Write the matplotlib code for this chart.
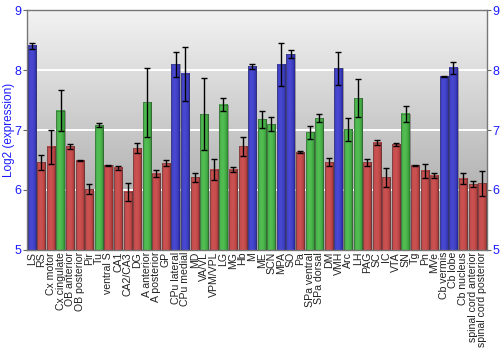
import numpy as np
import matplotlib
matplotlib.use("Agg")
import matplotlib.pyplot as plt

regions = ["LS", "RS", "Cx motor", "Cx cingulate", "OB anterior", "OB posterior",
           "Pir", "Tu", "ventral S", "CA1", "CA2/CA3", "DG", "A anterior",
           "A posterior", "GP", "CPu lateral", "CPu medial", "MD", "VA/VL",
           "VPM/VPL", "LG", "MG", "Hb", "M", "ME", "SCN", "MPA", "SO", "Pa",
           "SPa ventral", "SPa dorsal", "DM", "VMH", "Arc", "LH", "PAG", "SC",
           "IC", "VTA", "SN", "Tg", "Pn", "MVe", "Cb vermis", "Cb lobe",
           "Cb nucleus", "spinal cord anterior", "spinal cord posterior"]

expression = [8.41, 6.46, 6.72, 7.32, 6.73, 6.49, 6.01, 7.08, 6.41, 6.37, 5.97,
              6.70, 7.46, 6.27, 6.45, 8.10, 7.94, 6.21, 7.26, 6.34, 7.42, 6.34,
              6.73, 8.06, 7.18, 7.10, 8.09, 8.27, 6.63, 6.96, 7.20, 6.46, 8.03,
              7.01, 7.53, 6.46, 6.79, 6.21, 6.76, 7.27, 6.41, 6.32, 6.24, 7.89,
              8.04, 6.19, 6.10, 6.11]

errors = [0.05, 0.125, 0.28, 0.34, 0.04, 0.01, 0.085, 0.035, 0.01, 0.03, 0.15,
          0.085, 0.57, 0.06, 0.045, 0.21, 0.45, 0.07, 0.60, 0.18, 0.11, 0.035,
          0.16, 0.035, 0.14, 0.11, 0.36, 0.06, 0.02, 0.115, 0.06, 0.065, 0.28,
          0.19, 0.32, 0.06, 0.04, 0.16, 0.025, 0.135, 0.01, 0.115, 0.035, 0.01,
          0.10, 0.09, 0.045, 0.21]

groups = ["b", "r", "r", "g", "r", "r", "r", "g", "r", "r", "r", "r", "g", "r",
          "r", "b", "b", "r", "g", "r", "g", "r", "r", "b", "g", "g", "b", "b",
          "r", "g", "g", "r", "b", "g", "g", "r", "r", "r", "r", "g", "r", "r",
          "r", "b", "b", "r", "r", "r"]

# (light, dark) shades for the cylinder-style bar fill
shades = {
    "b": ((0.28, 0.28, 0.82), (0.12, 0.12, 0.54)),
    "r": ((0.80, 0.32, 0.32), (0.52, 0.14, 0.14)),
    "g": ((0.32, 0.74, 0.32), (0.12, 0.46, 0.12)),
}

fig = plt.figure(figsize=(5, 3.5), dpi=100)
ax = fig.add_axes([0.054, 0.286, 0.92, 0.685])

n = len(regions)
x = np.arange(n)
width = 0.86
ymin, ymax = 5, 9

# grey vertical gradient background, light at the top
bg = np.linspace(0.95, 0.62, 256)[:, None]
bg = np.repeat(bg, 2, axis=1)
ax.imshow(bg, cmap="gray", vmin=0, vmax=1, extent=(-0.5, n - 0.5, ymin, ymax),
          origin="upper", aspect="auto", zorder=0, interpolation="bicubic")

for yv in (6, 7, 8):
    ax.axhline(yv, color="white", lw=1.4, zorder=1)

# horizontal shading profile across each bar
t = np.linspace(0, 1, 64)
prof = np.clip(np.sin(np.pi * (0.15 + 0.85 * t)) ** 0.6, 0, 1)

bars = ax.bar(x, np.array(expression) - ymin, bottom=ymin, width=width,
              facecolor="none", edgecolor=(0.25, 0.25, 0.25, 0.6), lw=0.5,
              zorder=3)
for xi, val, grp in zip(x, expression, groups):
    light, dark = shades[grp]
    light = np.array(light)
    dark = np.array(dark)
    img = dark[None, :] + (light - dark)[None, :] * prof[:, None]
    img = img[None, :, :]
    ax.imshow(img, extent=(xi - width / 2, xi + width / 2, ymin, val),
              aspect="auto", zorder=2, interpolation="bilinear")

ax.errorbar(x, expression, yerr=errors, fmt="none", ecolor="black",
            elinewidth=1, capsize=2.3, capthick=1, zorder=4)

ax.set_xlim(-0.5, n - 0.5)
ax.set_ylim(ymin, ymax)
ax.set_xticks(x)
ax.set_xticklabels(regions, rotation=90, fontsize=7.6, color="#222222",
                   family="Liberation Sans")
ax.set_yticks([5, 6, 7, 8, 9])
ax.tick_params(axis="y", left=True, right=True, labelleft=True, labelright=True,
               labelsize=9, labelcolor="#1a1aff", color="#666666", length=3,
               pad=1)
ax.tick_params(axis="x", length=0, pad=1.5)
for lbl in ax.get_yticklabels():
    lbl.set_family("Liberation Sans")
ax.set_ylabel("Log2 (expression)", color="#1a1aff", fontsize=8.5,
              family="Liberation Sans")
ax.yaxis.set_label_coords(-0.027, 0.5)
for side in ("left", "right", "top", "bottom"):
    ax.spines[side].set_color("#777777")
    ax.spines[side].set_linewidth(1)

fig.savefig("out.png", dpi=100, facecolor="white")
